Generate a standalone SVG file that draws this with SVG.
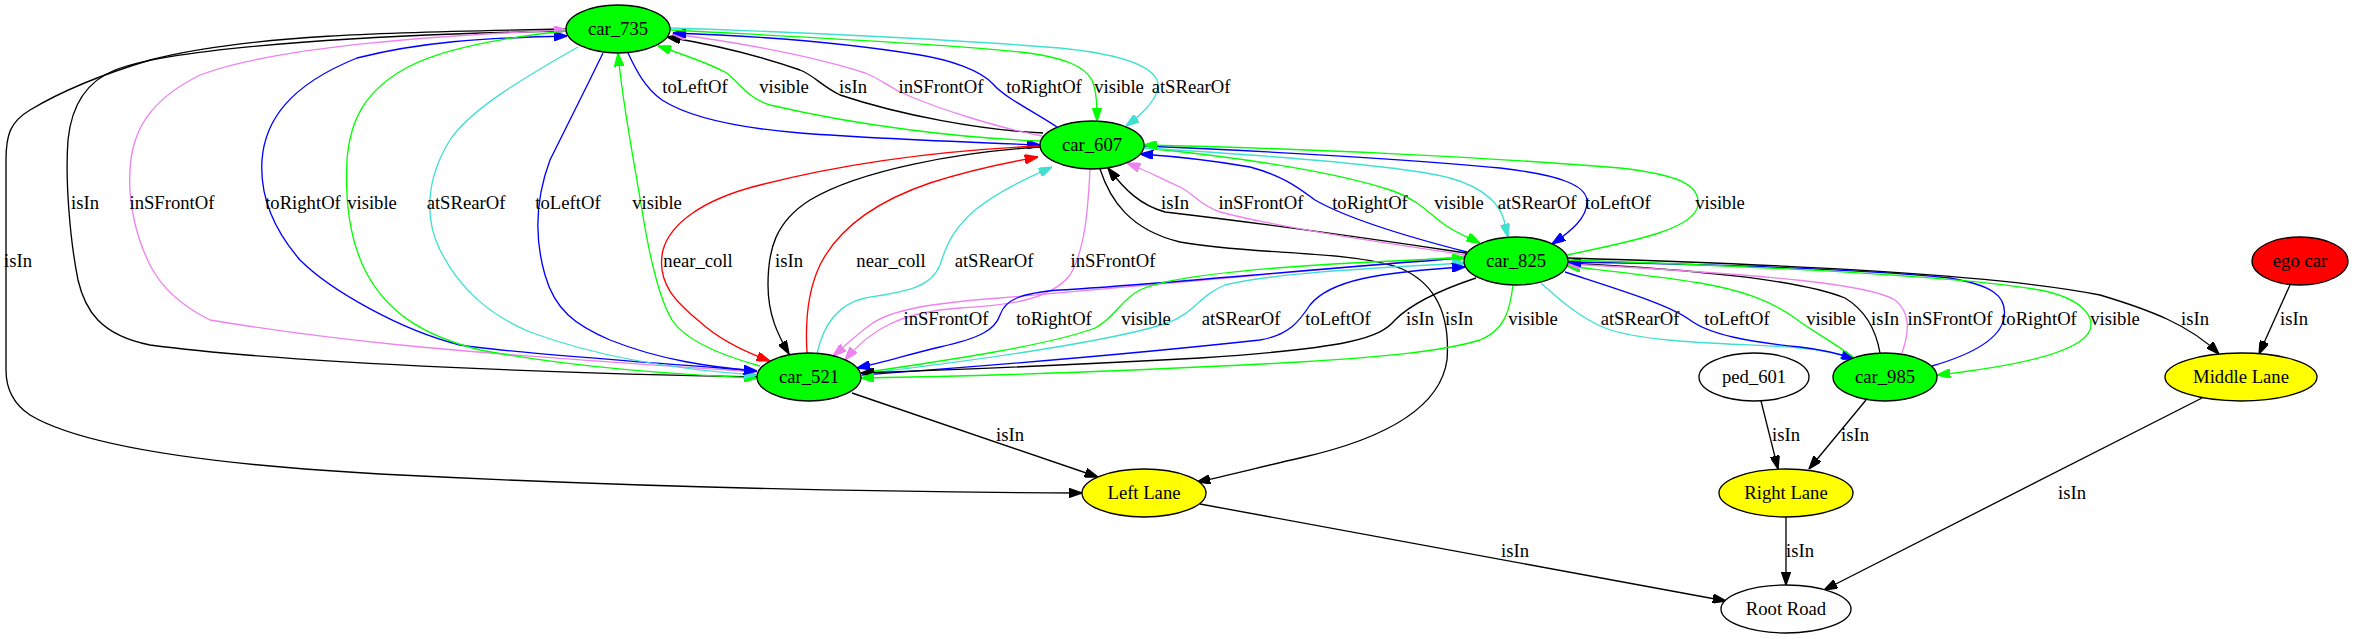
<svg xmlns="http://www.w3.org/2000/svg" width="2354" height="639" viewBox="0 0 2354 639">
<style>
.e{fill:none;stroke-width:1.33}
.k{stroke:#000}.b{stroke:#0000ff}.g{stroke:#00ff00}.v{stroke:#ee82ee}.t{stroke:#40e0d0}.r{stroke:#ff0000}
.n{stroke:#000;stroke-width:1.33}
text{font-family:"Liberation Serif","Times New Roman",serif;font-size:18.67px;text-anchor:middle;fill:#000}
</style>
<defs>
<marker id="ak" viewBox="0 0 10 7" refX="10" refY="3.5" markerWidth="13.3" markerHeight="9.3" markerUnits="userSpaceOnUse" orient="auto"><path d="M0,0L10,3.5L0,7z" fill="#000" stroke="#000"/></marker>
<marker id="ab" viewBox="0 0 10 7" refX="10" refY="3.5" markerWidth="13.3" markerHeight="9.3" markerUnits="userSpaceOnUse" orient="auto"><path d="M0,0L10,3.5L0,7z" fill="#0000ff" stroke="#0000ff"/></marker>
<marker id="ag" viewBox="0 0 10 7" refX="10" refY="3.5" markerWidth="13.3" markerHeight="9.3" markerUnits="userSpaceOnUse" orient="auto"><path d="M0,0L10,3.5L0,7z" fill="#00ff00" stroke="#00ff00"/></marker>
<marker id="av" viewBox="0 0 10 7" refX="10" refY="3.5" markerWidth="13.3" markerHeight="9.3" markerUnits="userSpaceOnUse" orient="auto"><path d="M0,0L10,3.5L0,7z" fill="#ee82ee" stroke="#ee82ee"/></marker>
<marker id="at" viewBox="0 0 10 7" refX="10" refY="3.5" markerWidth="13.3" markerHeight="9.3" markerUnits="userSpaceOnUse" orient="auto"><path d="M0,0L10,3.5L0,7z" fill="#40e0d0" stroke="#40e0d0"/></marker>
<marker id="ar" viewBox="0 0 10 7" refX="10" refY="3.5" markerWidth="13.3" markerHeight="9.3" markerUnits="userSpaceOnUse" orient="auto"><path d="M0,0L10,3.5L0,7z" fill="#ff0000" stroke="#ff0000"/></marker>
</defs>
<rect width="2354" height="639" fill="#fff"/>
<g id="connectors">
<!-- car_735 <-> car_607 -->
<path class="e b" marker-end="url(#ab)" d="M628,53 C636,70 645,88 662,100 C690,118 740,128 800,133 C880,139 960,142 1040,145"/>
<path class="e g" marker-end="url(#ag)" d="M1041,141 C960,138 860,126 770,105 C745,97 740,82 725,72 C705,62 685,55 658,46"/>
<path class="e k" marker-end="url(#ak)" d="M1043,133 C980,130 900,115 840,95 C820,85 815,76 800,70 C760,56 710,44 667,37"/>
<path class="e v" marker-end="url(#av)" d="M1042,136 C1000,128 940,110 900,92 C885,84 878,78 865,73 C820,58 740,42 672,34"/>
<path class="e b" marker-end="url(#ab)" d="M1057,127 C1035,112 1005,98 993,84 C980,70 950,60 920,55 C840,42 760,36 673,33"/>
<path class="e g" marker-end="url(#ag)" d="M670,30 C780,36 920,42 1020,52 C1070,58 1085,68 1092,80 C1097,92 1097,108 1097,121"/>
<path class="e t" marker-end="url(#at)" d="M670,28 C800,32 960,40 1060,48 C1120,54 1150,65 1157,80 C1162,95 1145,112 1126,126"/>
<!-- car_735 <-> car_521 / Left Lane -->
<path class="e k" marker-end="url(#ak)" d="M567,31 C400,34 180,45 115,70 C90,80 72,100 68,140 C65,180 70,240 78,280 C85,310 100,335 150,345 C300,365 600,374 757,377"/>
<path class="e k" marker-end="url(#ak)" d="M567,29 C400,32 250,34 150,60 C100,75 60,92 30,110 C10,122 6,135 6,160 L6,370 C6,390 15,405 30,415 C80,445 200,465 400,475 C600,485 850,492 1082,493"/>
<path class="e v" marker-end="url(#av)" d="M757,372 C650,365 500,355 400,345 C300,335 240,325 210,320 C180,305 160,285 150,265 C135,235 128,200 130,170 C132,130 150,100 200,75 C280,45 450,35 567,30"/>
<path class="e b" marker-end="url(#ab)" d="M757,371 C620,360 500,352 460,345 C400,330 330,290 300,260 C270,225 260,190 262,160 C265,120 290,85 357,58 C420,42 480,38 567,36"/>
<path class="e g" marker-end="url(#ag)" d="M566,31 C500,38 440,50 408,67 C365,90 350,120 347,160 C345,200 350,240 365,270 C385,310 420,335 480,350 C560,365 660,374 757,378"/>
<path class="e t" marker-end="url(#at)" d="M578,47 C520,80 470,110 450,140 C425,180 425,220 440,250 C460,290 490,315 530,332 C600,358 680,370 757,375"/>
<path class="e b" marker-end="url(#ab)" d="M603,53 C585,90 565,130 550,160 C535,200 535,240 545,275 C555,310 575,325 610,340 C660,360 710,367 757,371"/>
<path class="e g" marker-end="url(#ag)" d="M760,366 C720,355 685,340 672,320 C660,300 650,260 642,210 C632,150 622,100 618,53"/>
<!-- car_607 <-> car_521 -->
<path class="e k" marker-end="url(#ak)" d="M1041,147 C960,152 860,170 810,200 C775,222 768,250 768,285 C768,315 778,335 789,354"/>
<path class="e r" marker-end="url(#ar)" d="M1040,146 C950,150 850,162 760,185 C700,200 670,225 663,250 C655,285 680,305 700,322 C720,340 745,352 770,361"/>
<path class="e r" marker-end="url(#ar)" d="M807,353 C805,320 808,290 820,265 C840,225 880,200 930,183 C970,170 1010,162 1038,157"/>
<path class="e t" marker-end="url(#at)" d="M817,354 C822,330 835,305 865,298 C900,292 930,290 940,265 C948,240 955,228 975,210 C1000,190 1030,177 1052,167"/>
<path class="e v" marker-end="url(#av)" d="M1090,169 C1088,210 1085,250 1070,275 C1050,300 1010,305 960,308 C900,312 870,330 845,360"/>
<!-- car_607 -> Left Lane -->
<path class="e k" marker-end="url(#ak)" d="M1100,169 C1110,200 1130,230 1180,242 C1250,255 1350,250 1400,268 C1440,285 1450,320 1447,360 C1440,410 1380,440 1300,458 C1260,467 1230,475 1197,482"/>
<!-- car_607 <-> car_825 -->
<path class="e k" marker-end="url(#ak)" d="M1466,253 C1380,240 1250,222 1165,212 C1140,205 1125,190 1108,168"/>
<path class="e v" marker-end="url(#av)" d="M1466,255 C1400,245 1280,228 1220,212 C1200,205 1195,195 1180,187 C1160,178 1145,170 1127,163"/>
<path class="e b" marker-end="url(#ab)" d="M1467,252 C1420,240 1350,220 1315,200 C1295,185 1280,175 1250,167 C1210,160 1170,156 1140,154"/>
<path class="e g" marker-end="url(#ag)" d="M1143,148 C1220,155 1330,170 1390,190 C1420,200 1430,215 1445,225 C1460,235 1470,238 1480,243"/>
<path class="e t" marker-end="url(#at)" d="M1144,148 C1260,155 1400,165 1450,178 C1485,188 1500,205 1504,220 C1506,228 1507,233 1508,237"/>
<path class="e b" marker-end="url(#ab)" d="M1144,146 C1280,152 1420,160 1500,168 C1560,175 1585,185 1587,200 C1588,218 1570,232 1552,244"/>
<path class="e g" marker-end="url(#ag)" d="M1567,255 C1640,240 1695,228 1698,205 C1700,185 1680,175 1620,168 C1500,158 1300,148 1144,145"/>
<!-- car_825 <-> car_521 -->
<path class="e v" marker-end="url(#av)" d="M1466,256 C1300,272 1100,290 1000,298 C930,303 890,310 870,325 C855,336 845,346 833,356"/>
<path class="e b" marker-end="url(#ab)" d="M1464,258 C1300,270 1150,285 1060,290 C1020,293 1005,300 1000,315 C995,330 980,338 940,347 C910,354 885,362 857,368"/>
<path class="e g" marker-end="url(#ag)" d="M861,373 C950,360 1050,345 1095,328 C1115,318 1120,300 1140,290 C1180,270 1350,262 1465,258"/>
<path class="e t" marker-end="url(#at)" d="M862,374 C980,360 1120,340 1170,322 C1195,312 1200,295 1225,285 C1280,272 1380,268 1465,263"/>
<path class="e b" marker-end="url(#ab)" d="M862,375 C1000,365 1150,352 1260,340 C1290,335 1300,320 1310,305 C1330,280 1380,272 1465,267"/>
<path class="e k" marker-end="url(#ak)" d="M1476,278 C1440,290 1410,305 1395,320 C1380,338 1350,348 1200,358 C1050,366 950,370 861,373"/>
<path class="e g" marker-end="url(#ag)" d="M1513,285 C1510,310 1505,330 1480,340 C1440,352 1380,357 1300,362 C1150,370 1000,376 861,378"/>
<!-- car_825 <-> car_985 / Middle Lane -->
<path class="e t" marker-end="url(#at)" d="M1541,283 C1560,300 1580,318 1605,328 C1650,345 1750,343 1800,348 C1825,350 1840,354 1854,359"/>
<path class="e b" marker-end="url(#ab)" d="M1565,272 C1620,290 1670,305 1690,320 C1710,335 1750,342 1800,347 C1825,350 1840,354 1855,359"/>
<path class="e g" marker-end="url(#ag)" d="M1853,357 C1830,340 1810,330 1795,318 C1770,300 1740,290 1700,283 C1650,275 1600,270 1567,266"/>
<path class="e k" marker-end="url(#ak)" d="M1880,353 C1876,330 1865,310 1845,298 C1800,280 1700,270 1567,263"/>
<path class="e v" marker-end="url(#av)" d="M1902,353 C1910,330 1910,312 1895,300 C1870,285 1780,275 1567,264"/>
<path class="e b" marker-end="url(#ab)" d="M1932,366 C1970,355 2000,340 2004,318 C2008,295 1990,285 1950,278 C1850,268 1700,264 1568,262"/>
<path class="e g" marker-end="url(#ag)" d="M1568,260 C1750,266 1950,275 2040,290 C2080,298 2095,315 2090,330 C2080,355 2000,368 1937,375"/>
<path class="e k" marker-end="url(#ak)" d="M1568,258 C1800,265 2000,275 2100,295 C2150,310 2190,325 2219,354"/>
<!-- lanes / road -->
<path class="e k" marker-end="url(#ak)" d="M2290,285 L2259,354"/>
<path class="e k" marker-end="url(#ak)" d="M1761,401 L1778,469"/>
<path class="e k" marker-end="url(#ak)" d="M1866,400 L1809,469"/>
<path class="e k" marker-end="url(#ak)" d="M1786,517 L1786,585"/>
<path class="e k" marker-end="url(#ak)" d="M2202,398 L1824,590"/>
<path class="e k" marker-end="url(#ak)" d="M1200,504 L1726,601"/>
<path class="e k" marker-end="url(#ak)" d="M852,393 L1098,477"/>
<!-- labels -->
<g id="edge-labels">
<text x="695" y="92.6">toLeftOf</text>
<text x="784" y="92.6">visible</text>
<text x="853" y="92.6">isIn</text>
<text x="941" y="92.6">inSFrontOf</text>
<text x="1044" y="92.6">toRightOf</text>
<text x="1119" y="92.6">visible</text>
<text x="1191" y="92.6">atSRearOf</text>
<text x="85" y="208.6">isIn</text>
<text x="172" y="208.6">inSFrontOf</text>
<text x="303" y="208.6">toRightOf</text>
<text x="372" y="208.6">visible</text>
<text x="466" y="208.6">atSRearOf</text>
<text x="568" y="208.6">toLeftOf</text>
<text x="657" y="208.6">visible</text>
<text x="1175" y="208.6">isIn</text>
<text x="1261" y="208.6">inSFrontOf</text>
<text x="1370" y="208.6">toRightOf</text>
<text x="1459" y="208.6">visible</text>
<text x="1537" y="208.6">atSRearOf</text>
<text x="1618" y="208.6">toLeftOf</text>
<text x="1720" y="208.6">visible</text>
<text x="18" y="266.6">isIn</text>
<text x="698" y="266.6">near_coll</text>
<text x="789" y="266.6">isIn</text>
<text x="891" y="266.6">near_coll</text>
<text x="994" y="266.6">atSRearOf</text>
<text x="1113" y="266.6">inSFrontOf</text>
<text x="946" y="324.6">inSFrontOf</text>
<text x="1054" y="324.6">toRightOf</text>
<text x="1146" y="324.6">visible</text>
<text x="1241" y="324.6">atSRearOf</text>
<text x="1338" y="324.6">toLeftOf</text>
<text x="1420" y="324.6">isIn</text>
<text x="1459" y="324.6">isIn</text>
<text x="1533" y="324.6">visible</text>
<text x="1640" y="324.6">atSRearOf</text>
<text x="1737" y="324.6">toLeftOf</text>
<text x="1831" y="324.6">visible</text>
<text x="1885" y="324.6">isIn</text>
<text x="1950" y="324.6">inSFrontOf</text>
<text x="2039" y="324.6">toRightOf</text>
<text x="2115" y="324.6">visible</text>
<text x="2195" y="324.6">isIn</text>
<text x="2294" y="324.6">isIn</text>
<text x="1010" y="440.6">isIn</text>
<text x="1786" y="440.6">isIn</text>
<text x="1855" y="440.6">isIn</text>
<text x="2072" y="498.6">isIn</text>
<text x="1515" y="556.6">isIn</text>
<text x="1800" y="556.6">isIn</text>
</g>
</g>
<g id="car_735"><ellipse class="n" cx="618" cy="29" rx="52" ry="24" fill="#00ff00"/><text x="618" y="35">car_735</text></g>
<g id="car_607"><ellipse class="n" cx="1092" cy="145" rx="52" ry="24" fill="#00ff00"/><text x="1092" y="151">car_607</text></g>
<g id="car_825"><ellipse class="n" cx="1516" cy="261" rx="52" ry="24" fill="#00ff00"/><text x="1516" y="267">car_825</text></g>
<g id="car_521"><ellipse class="n" cx="809" cy="377" rx="52" ry="24" fill="#00ff00"/><text x="809" y="383">car_521</text></g>
<g id="car_985"><ellipse class="n" cx="1885" cy="377" rx="52" ry="24" fill="#00ff00"/><text x="1885" y="383">car_985</text></g>
<g id="ped_601"><ellipse class="n" cx="1754" cy="377" rx="55" ry="24" fill="#ffffff"/><text x="1754" y="383">ped_601</text></g>
<g id="ego_car"><ellipse class="n" cx="2300" cy="261" rx="48" ry="24" fill="#ff0000"/><text x="2300" y="267">ego car</text></g>
<g id="middle_lane"><ellipse class="n" cx="2241" cy="377" rx="76" ry="24" fill="#ffff00"/><text x="2241" y="383">Middle Lane</text></g>
<g id="left_lane"><ellipse class="n" cx="1144" cy="493" rx="62" ry="24" fill="#ffff00"/><text x="1144" y="499">Left Lane</text></g>
<g id="right_lane"><ellipse class="n" cx="1786" cy="493" rx="67" ry="24" fill="#ffff00"/><text x="1786" y="499">Right Lane</text></g>
<g id="root_road"><ellipse class="n" cx="1786" cy="609" rx="65" ry="24" fill="#ffffff"/><text x="1786" y="615">Root Road</text></g>
</svg>
